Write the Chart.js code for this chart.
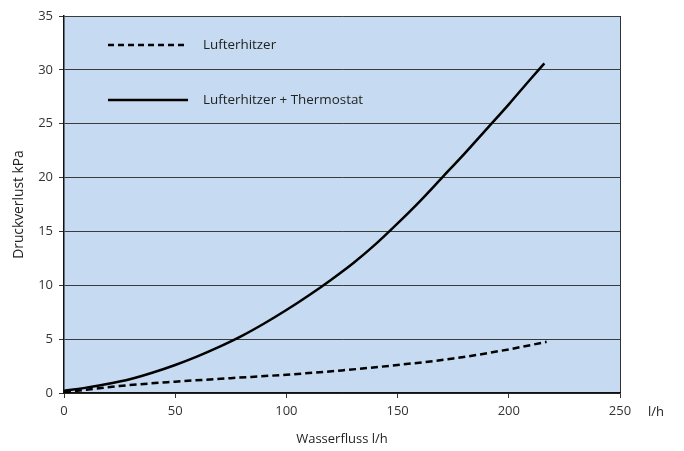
<!DOCTYPE html>
<html>
<head>
<meta charset="utf-8">
<script src="https://cdn.jsdelivr.net/npm/chart.js@4/dist/chart.umd.min.js"></script>
<style>
html,body{margin:0;padding:0;background:#fff;}
#wrap{width:684px;height:451px;position:relative;}
</style>
</head>
<body>
<div id="wrap"><canvas id="c" width="684" height="451"></canvas></div>
<script>
// Data
const seriesNames = ["Lufterhitzer", "Lufterhitzer + Thermostat"];
const flowHeater = [0, 10, 25, 50, 75, 100, 125, 150, 175, 200, 217];
const lossHeater = [0.05, 0.3, 0.65, 1.05, 1.38, 1.7, 2.1, 2.6, 3.2, 4.05, 4.75];
const flowThermo = [0, 10, 20, 30, 40, 50, 60, 70, 80, 90, 100, 110, 120, 130, 140, 150, 160, 170, 180, 190, 200, 210, 216];
const lossThermo = [0.2, 0.5, 0.85, 1.3, 1.9, 2.6, 3.4, 4.3, 5.3, 6.45, 7.7, 9.05, 10.5, 12.05, 13.8, 15.75, 17.8, 20.0, 22.2, 24.5, 26.8, 29.2, 30.6];
const xTitle = "Wasserfluss l/h";
const yTitle = "Druckverlust kPa";
const xUnit = "l/h";

const FONT = "'Open Sans', 'DejaVu Sans', sans-serif";
const toPts = (xs, ys) => xs.map((x, i) => ({x: x, y: ys[i]}));

const bgPlugin = {
  id: 'bg',
  beforeDraw(chart) {
    const {ctx, chartArea: a} = chart;
    ctx.save();
    ctx.fillStyle = '#c6dbf2';
    ctx.fillRect(a.left, a.top, a.right - a.left, a.bottom - a.top);
    ctx.restore();
  }
};

const legendPlugin = {
  id: 'inlineLegend',
  afterDraw(chart) {
    const {ctx, chartArea: a} = chart;
    ctx.save();
    const rows = [{y: a.top + 29, dash: [6, 4]}, {y: a.top + 84, dash: []}];
    rows.forEach((r, i) => {
      ctx.beginPath();
      ctx.setLineDash(r.dash);
      ctx.lineWidth = 2.5;
      ctx.strokeStyle = '#000';
      ctx.moveTo(a.left + 44, r.y);
      ctx.lineTo(a.left + 124, r.y);
      ctx.stroke();
      ctx.setLineDash([]);
      ctx.fillStyle = '#222';
      ctx.font = '13.4px ' + FONT;
      ctx.textBaseline = 'middle';
      ctx.textAlign = 'left';
      ctx.fillText(chart.data.datasets[i].label, a.left + 139, r.y);
    });
    // unit label at the end of x axis
    ctx.font = '13px ' + FONT;
    ctx.fillStyle = '#222';
    ctx.textAlign = 'left';
    ctx.textBaseline = 'middle';
    ctx.fillText(xUnit, a.right + 28, a.bottom + 19);
    ctx.restore();
  }
};

new Chart(document.getElementById('c'), {
  type: 'line',
  data: {
    datasets: [
      {
        label: seriesNames[0],
        data: toPts(flowHeater, lossHeater),
        borderColor: '#000',
        borderWidth: 2.5,
        borderDash: [7, 4],
        pointRadius: 0,
        cubicInterpolationMode: 'monotone',
        fill: false
      },
      {
        label: seriesNames[1],
        data: toPts(flowThermo, lossThermo),
        borderColor: '#000',
        borderWidth: 2.5,
        pointRadius: 0,
        cubicInterpolationMode: 'monotone',
        fill: false
      }
    ]
  },
  options: {
    responsive: false,
    animation: false,
    layout: {padding: {left: 0, right: 64, top: 16, bottom: 0}},
    plugins: {legend: {display: false}, tooltip: {enabled: false}},
    scales: {
      x: {
        type: 'linear',
        min: 0, max: 250,
        afterFit(s) { s.height = 58; },
        ticks: {stepSize: 50, color: '#333', font: {family: FONT, size: 13}, padding: 5, maxRotation: 0},
        grid: {
          color: (c) => (c.tick && c.tick.value === 250) ? '#333' : 'rgba(0,0,0,0)',
          tickColor: '#333',
          tickLength: 5,
          lineWidth: 1
        },
        border: {display: true, color: '#111', width: 1.5},
        title: {display: true, text: xTitle, color: '#222', font: {family: FONT, size: 13}, padding: {top: 6, bottom: 4}}
      },
      y: {
        min: 0, max: 35,
        afterFit(s) { s.width = 64; },
        ticks: {stepSize: 5, color: '#333', font: {family: FONT, size: 13}, padding: 6},
        grid: {color: '#3a3a3a', tickColor: '#333', tickLength: 5, lineWidth: 1},
        border: {display: true, color: '#111', width: 1.5},
        title: {display: true, text: yTitle, color: '#222', font: {family: FONT, size: 13.8}, padding: {top: 11, bottom: 4}}
      }
    }
  },
  plugins: [bgPlugin, legendPlugin]
});
</script>
</body>
</html>
